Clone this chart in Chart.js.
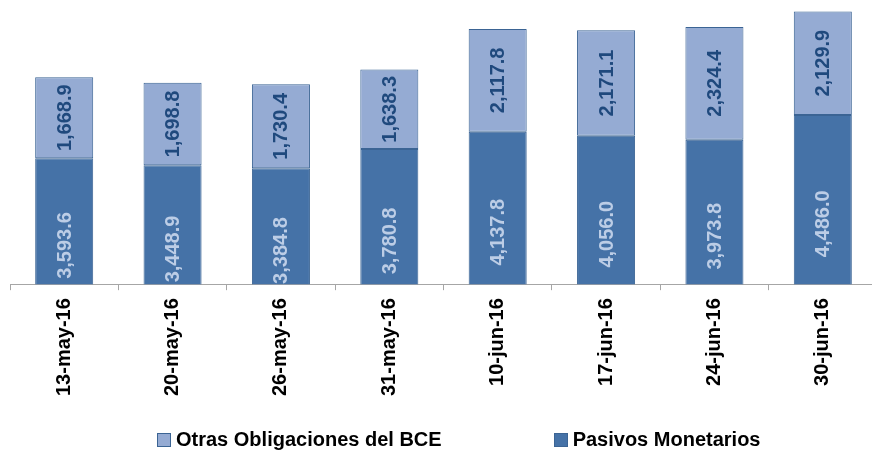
<!DOCTYPE html>
<html>
<head>
<meta charset="utf-8">
<script src="https://cdn.jsdelivr.net/npm/chart.js@4.4.1/dist/chart.umd.min.js"></script>
<style>
  html, body { margin: 0; padding: 0; background: #fff; overflow: hidden; }
  #wrap { position: relative; width: 880px; height: 452px; }
  #legend { position: absolute; left: 157px; top: 428px; display: flex; font: bold 20px "Liberation Sans", Arial, sans-serif; color: #000; }
  #legend span.item { display: flex; align-items: center; margin-right: 112px; white-space: nowrap; }
  #legend span.box { display: inline-block; width: 12px; height: 12px; border: 1px solid #3b6494; margin-right: 5px; }
</style>
</head>
<body>
<div id="wrap">
  <canvas id="chart" width="880" height="452"></canvas>
  <div id="legend"></div>
</div>
<script>
let fechas = ["13-may-16", "20-may-16", "26-may-16", "31-may-16", "10-jun-16", "17-jun-16", "24-jun-16", "30-jun-16"];
let pasivosMonetarios = [3593.6, 3448.9, 3384.8, 3780.8, 4137.8, 4056.0, 3973.8, 4486.0];
let otrasObligaciones = [1668.9, 1698.8, 1730.4, 1638.3, 2117.8, 2171.1, 2324.4, 2129.9];

let fmt = function (v) {
  return v.toLocaleString("en-US", { minimumFractionDigits: 1, maximumFractionDigits: 1 });
};

// etiquetas verticales dentro de cada segmento
let barLabels = {
  id: "barLabels",
  afterDatasetsDraw: function (chart) {
    let ctx = chart.ctx;
    chart.data.datasets.forEach(function (ds, i) {
      let meta = chart.getDatasetMeta(i);
      meta.data.forEach(function (bar, j) {
        let p = bar.getProps(["x", "y", "base"], true);
        ctx.save();
        ctx.translate(p.x, (p.y + p.base) / 2);
        ctx.rotate(-Math.PI / 2);
        ctx.font = 'bold 20px "Liberation Sans", Arial, sans-serif';
        ctx.fillStyle = ds.labelColor;
        ctx.textAlign = "center";
        ctx.textBaseline = "middle";
        ctx.fillText(fmt(ds.data[j]), 0, 1);
        ctx.restore();
      });
    });
  },
};

let chart = new Chart(document.getElementById("chart").getContext("2d"), {
  type: "bar",
  data: {
    labels: fechas,
    datasets: [
      {
        label: "Pasivos Monetarios",
        data: pasivosMonetarios,
        backgroundColor: "#4572a7",
        borderColor: "#3b6494",
        borderWidth: 1,
        borderSkipped: false,
        labelColor: "#bccde6",
        barPercentage: 0.9,
        categoryPercentage: 0.595,
      },
      {
        label: "Otras Obligaciones del BCE",
        data: otrasObligaciones,
        backgroundColor: "#95abd3",
        borderColor: "#3b6494",
        borderWidth: 1,
        borderSkipped: false,
        labelColor: "#1f497d",
        barPercentage: 0.9,
        categoryPercentage: 0.595,
      },
    ],
  },
  options: {
    responsive: false,
    animation: false,
    layout: { padding: { left: 10, right: 3, top: 3, bottom: 48 } },
    plugins: {
      legend: { display: false },
      tooltip: { enabled: false },
    },
    scales: {
      x: {
        stacked: true,
        border: { display: true, color: "#a6a6a6", width: 1 },
        grid: { display: true, drawOnChartArea: false, drawTicks: true, tickLength: 6, offset: true, color: "#a6a6a6" },
        ticks: {
          color: "#000",
          padding: 8,
          minRotation: 90,
          maxRotation: 90,
          font: { family: '"Liberation Sans", Arial, sans-serif', size: 20, weight: "bold" },
        },
      },
      y: {
        stacked: true,
        display: false,
        min: 1000,
        max: 6790,
      },
    },
  },
  plugins: [barLabels],
});

// leyenda (orden invertido, como en el original)
let legendHtml = "";
chart.data.datasets.slice().reverse().forEach(function (ds) {
  legendHtml += '<span class="item"><span class="box" style="background-color: ' + ds.backgroundColor + '"></span>' + ds.label + "</span>";
});
document.getElementById("legend").innerHTML = legendHtml;
</script>
</body>
</html>
